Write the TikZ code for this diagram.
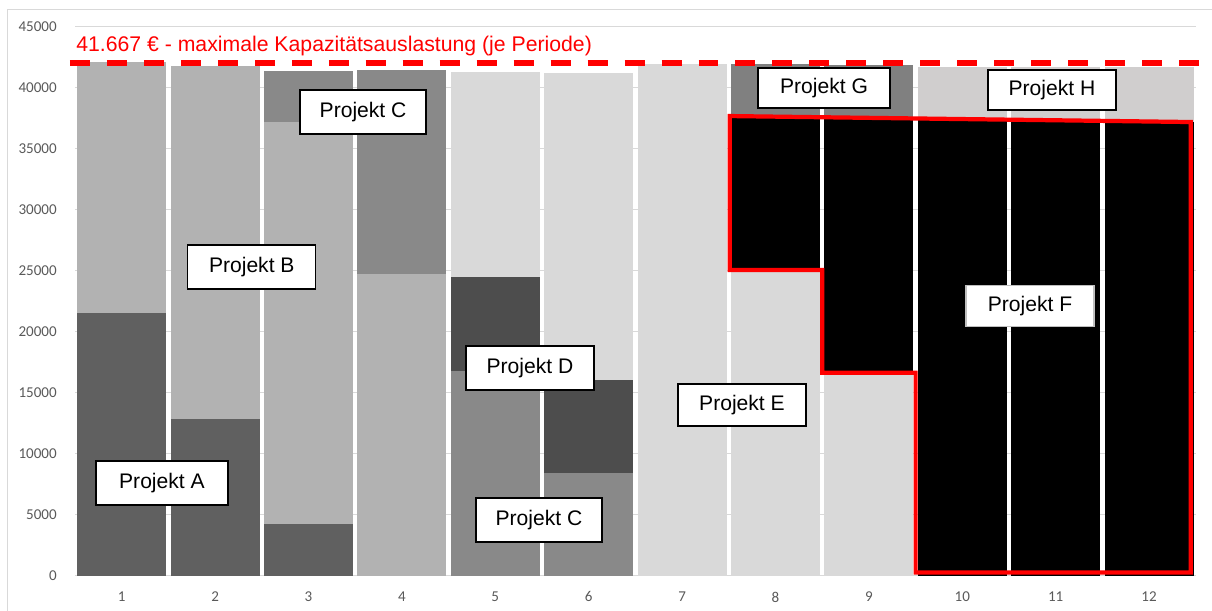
\documentclass[tikz,border=0pt]{standalone}
\usepackage{fontspec}
\setmainfont{Liberation Sans}
\newfontfamily\tickfont{Carlito}
\usetikzlibrary{positioning}
\definecolor{projA}{HTML}{606060}
\definecolor{projB}{HTML}{B2B2B2}
\definecolor{projC}{HTML}{898989}
\definecolor{projD}{HTML}{4D4D4D}
\definecolor{projE}{HTML}{D9D9D9}
\definecolor{projF}{HTML}{000000}
\definecolor{projG}{HTML}{808080}
\definecolor{projH}{HTML}{D0CECE}
\definecolor{gridgray}{HTML}{D9D9D9}
\definecolor{ticktext}{HTML}{595959}
\definecolor{capred}{HTML}{FF0000}

\begin{document}
\begin{tikzpicture}[x=2.335cm, y=0.305cm,
  projlabel/.style={rectangle, draw=black, fill=white, line width=0.8pt, minimum width=3.2cm, minimum height=1.1cm, inner sep=0pt, font=\fontsize{15}{18}\selectfont},
  gridline/.style={draw=gridgray, line width=0.7pt},
  ticklabel/.style={font=\tickfont\fontsize{10.7}{12}\selectfont, text=ticktext, inner sep=0pt},
  capline/.style={draw=capred, line width=3.6pt, dash pattern=on 14.2pt off 12.1pt},
  redframe/.style={draw=capred, line width=3pt, line join=miter}
]
  \useasboundingbox (-0.303,-2.869) rectangle (12.6734,47.213);
  \draw[gridline] (-0.228,-2.869) -- (-0.228,46.475) -- (12.6734,46.475);

  % grid and axis labels
  \foreach \v in {0,5,...,45} {
    \draw[gridline] (0.5,\v) -- (12.5,\v);
    \node[ticklabel, anchor=east] (y\v) at (0.307,\v) {\the\numexpr\v*1000\relax};
  }
  \foreach \i in {1,...,12}
    \node[ticklabel] (x\i) at (\i,-1.72) {\i};

  % stacked bars
  \foreach \c/\lo/\hi/\col in {
    1/0/21.56/projA, 1/21.56/42.1/projB,
    2/0/12.87/projA, 2/12.87/41.8/projB,
    3/0/4.26/projA, 3/4.26/37.2/projB, 3/37.2/41.4/projC,
    4/0/24.75/projB, 4/24.75/41.5/projC,
    5/0/16.83/projC, 5/16.83/24.5/projD, 5/24.5/41.3/projE,
    6/0/8.47/projC, 6/8.47/16.07/projD, 6/16.07/41.25/projE,
    7/0/42.0/projE,
    8/0/25.0/projE, 8/25.0/37.75/projF, 8/37.75/42.0/projG,
    9/0/16.7/projE, 9/16.7/37.65/projF, 9/37.65/41.9/projG,
    10/0/37.35/projF, 10/37.35/41.75/projH,
    11/0/37.3/projF, 11/37.3/41.75/projH,
    12/0/37.2/projF, 12/37.2/41.75/projH}
    \fill[\col] (\c-0.4765,\lo) rectangle (\c+0.4765,\hi);

  % capacity limit
  \draw[capline] (0.446,42.05) -- (12.6,42.05);
  \node[anchor=base west, text=capred, font=\fontsize{15.1}{18}\selectfont, inner sep=0pt] (captitle) at (0.511,42.98) {41.667 € - maximale Kapazitätsauslastung (je Periode)};

  \draw[redframe] (7.51,37.70) -- (7.51,25.08) -- (8.50,25.08) -- (8.50,16.66) -- (9.50,16.66) -- (9.50,0.29) -- (12.445,0.29) -- (12.445,37.21) -- cycle;

  % project labels
  \node[projlabel, minimum width=3.3cm] (lblA) at (1.431,7.62) {Projekt A};
  \node[projlabel] (lblB) at (2.393,25.33) {Projekt B};
  \node[projlabel, minimum width=3.15cm] (lblC) at (3.584,38.03) {Projekt C};
  \node[projlabel] (lblD) at (5.371,17.05) {Projekt D};
  \node[projlabel, minimum width=3.15cm] (lblCb) at (5.468,4.59) {Projekt C};
  \node[projlabel, minimum height=1.05cm] (lblE) at (7.641,14.02) {Projekt E};
  \node[projlabel, draw=black!25, minimum height=1.03cm] (lblF) at (10.725,22.13) {Projekt F};
  \node[projlabel, minimum width=3.3cm, minimum height=1.0cm] (lblG) at (8.519,40.0) {Projekt G};
  \node[projlabel, minimum height=1.0cm] (lblH) at (10.960,39.84) {Projekt H};
\end{tikzpicture}
\end{document}
